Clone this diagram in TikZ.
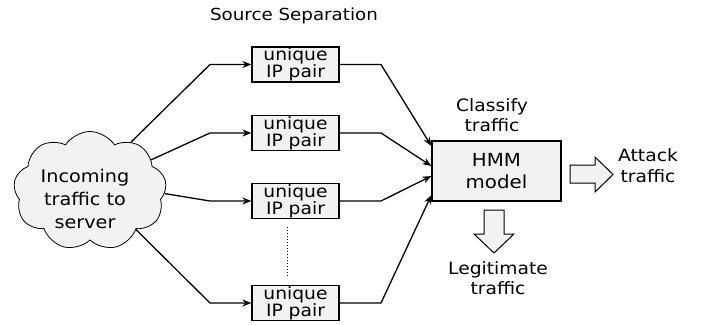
\documentclass[tikz,border=0pt]{standalone}
\usepackage{fontspec}
\setmainfont{DejaVu Sans}[FakeStretch=1.1]
\usetikzlibrary{shapes.symbols,arrows.meta}
\definecolor{boxfill}{HTML}{F2F2F2}
\begin{document}
\begin{tikzpicture}[x=1pt,y=-1pt,
  lbl/.style={font=\fontsize{17}{21}\selectfont, align=center, inner sep=0},
  pairbox/.style={draw, line width=1.2pt, fill=boxfill, minimum width=87pt, minimum height=35pt,
    inner sep=0, align=center, font=\fontsize{17}{17}\selectfont},
  conn/.style={line width=1.3pt, -{Stealth[length=9pt,width=7pt]}},
  blockarrow/.style={draw, line width=1pt, fill=boxfill}]
\useasboundingbox (0,0) rectangle (712,324);

% title
\node[lbl, font=\fontsize{16.6}{19}\selectfont] (title) at (294,16) {Source Separation};

% incoming traffic cloud
\node[cloud, draw, line width=0.8pt, fill=boxfill, cloud puffs=9, cloud puff arc=115,
  aspect=1.3, minimum width=153pt, minimum height=119pt, inner sep=0] (cloud) at (90,191) {};
\node[lbl, font=\fontsize{17.5}{23}\selectfont] (cloudtxt) at (85,199) {Incoming\\traffic to\\server};

% per-pair boxes
\node[pairbox] (u1) at (295.5,64.5) {unique\\IP pair};
\node[pairbox] (u2) at (295.5,133) {unique\\IP pair};
\node[pairbox] (u3) at (295.5,201) {unique\\IP pair};
\node[pairbox] (u4) at (295.5,303) {unique\\IP pair};
\coordinate (d1) at (287,227);
\coordinate (d2) at (287,277);
\draw[line width=1pt, dotted] (d1) -- (d2);

% classifier
\node[draw, line width=1.2pt, fill=boxfill, minimum width=129pt, minimum height=60pt,
  inner sep=0, align=center, font=\fontsize{18}{22}\selectfont] (hmm) at (496.5,171) {HMM\\model};
\node[lbl, font=\fontsize{17}{20}\selectfont] (cls) at (492,115) {Classify\\traffic};

% bend points
\coordinate (a1) at (210,64.5);
\coordinate (a2) at (210,133);
\coordinate (a3) at (210,201);
\coordinate (a4) at (210,303);
\coordinate (b1) at (381,64.5);
\coordinate (b2) at (381,133);
\coordinate (b3) at (381,201);
\coordinate (b4) at (381,303);
\coordinate (e1) at ([yshift=25pt]hmm.west);
\coordinate (e2) at ([yshift=5pt]hmm.west);
\coordinate (e3) at ([yshift=-5pt]hmm.west);
\coordinate (e4) at ([yshift=-24pt]hmm.west);

% cloud to boxes
\draw[conn] (cloud.50) -- (a1) -- (u1.west);
\draw[conn] (cloud.27) -- (a2) -- (u2.west);
\draw[conn] (cloud.-2) -- (a3) -- (u3.west);
\draw[conn] (cloud.-40) -- (a4) -- (u4.west);

% boxes to classifier
\draw[conn] (u1.east) -- (b1) -- (e1);
\draw[conn] (u2.east) -- (b2) -- (e2);
\draw[conn] (u3.east) -- (b3) -- (e3);
\draw[conn] (u4.east) -- (b4) -- (e4);

% outputs
\draw[blockarrow] (570,165) -- (595,165) -- (595,157) -- (613,174.5) -- (595,192) -- (595,183) -- (570,183) -- cycle;
\node[lbl, font=\fontsize{17}{21}\selectfont] (atk) at (648,166) {Attack\\traffic};
\draw[blockarrow] (484,210) -- (504,210) -- (504,234) -- (514,234) -- (494,253) -- (474,234) -- (484,234) -- cycle;
\node[lbl, font=\fontsize{17}{20}\selectfont] (leg) at (498,278) {Legitimate\\traffic};
\end{tikzpicture}
\end{document}
